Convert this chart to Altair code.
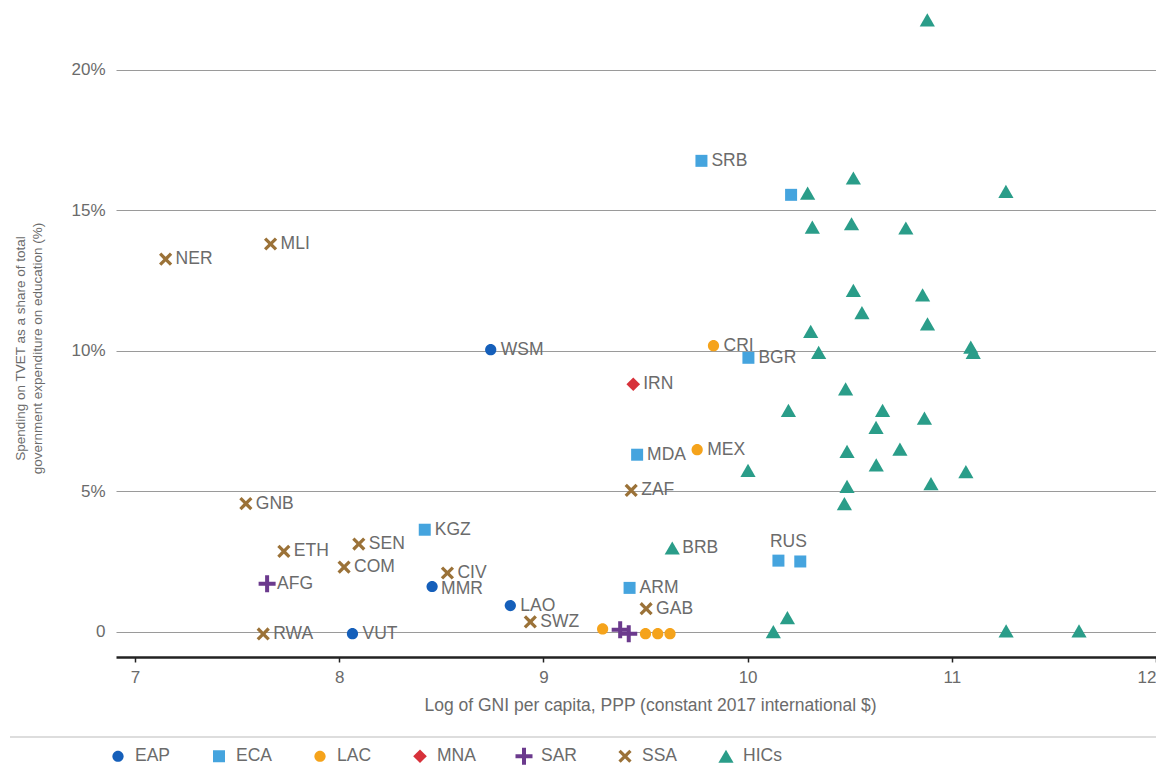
import altair as alt
import pandas as pd

# ---- data ----
regions = ["EAP", "ECA", "LAC", "MNA", "SAR", "SSA", "HICs"]

eap_codes = ["WSM", "MMR", "LAO", "VUT"]
eap_x = [8.742, 8.455, 8.838, 8.065]
eap_y = [10.04, 1.61, 0.93, -0.07]

eca_codes = ["SRB", "", "BGR", "MDA", "KGZ", "ARM", "RUS", ""]
eca_x = [9.774, 10.213, 10.004, 9.459, 8.419, 9.422, 10.151, 10.258]
eca_y = [16.76, 15.55, 9.75, 6.30, 3.63, 1.56, 2.53, 2.50]

lac_codes = ["CRI", "MEX", "", "", "", ""]
lac_x = [9.833, 9.753, 9.290, 9.500, 9.560, 9.620]
lac_y = [10.18, 6.48, 0.10, -0.07, -0.07, -0.07]

mna_codes = ["IRN"]
mna_x = [9.440]
mna_y = [8.81]

sar_codes = ["AFG", "", ""]
sar_x = [7.647, 9.376, 9.418]
sar_y = [1.71, 0.07, -0.07]

ssa_codes = ["NER", "MLI", "GNB", "ETH", "SEN", "COM", "RWA", "CIV", "SWZ", "ZAF", "GAB"]
ssa_x = [7.150, 7.664, 7.543, 7.729, 8.096, 8.024, 7.628, 8.530, 8.936, 9.430, 9.503]
ssa_y = [13.26, 13.80, 4.56, 2.86, 3.12, 2.30, -0.08, 2.09, 0.35, 5.03, 0.82]

hic_codes = ["BRB"] + [""] * 32
hic_x = [9.631, 10.880, 10.518, 10.294, 11.265, 10.317, 10.509, 10.775, 10.518,
         10.857, 10.560, 10.881, 10.309, 10.348, 11.093, 11.105, 10.480, 10.200,
         10.661, 10.866, 10.629, 10.487, 10.746, 10.002, 10.630, 11.069, 10.487,
         10.898, 10.474, 10.126, 10.195, 11.266, 11.623]
hic_y = [2.98, 21.78, 16.15, 15.61, 15.67, 14.40, 14.52, 14.37, 12.15,
         11.99, 11.36, 10.96, 10.69, 9.94, 10.13, 9.94, 8.64, 7.88,
         7.88, 7.60, 7.27, 6.42, 6.50, 5.74, 5.94, 5.70, 5.17,
         5.27, 4.56, 0.00, 0.50, 0.03, 0.03]

# labels placed above their marker / slightly below it
label_above = ["RUS"]
label_low = ["MMR"]

# ---- build table ----
groups = [
    ("EAP", eap_codes, eap_x, eap_y),
    ("ECA", eca_codes, eca_x, eca_y),
    ("LAC", lac_codes, lac_x, lac_y),
    ("MNA", mna_codes, mna_x, mna_y),
    ("SAR", sar_codes, sar_x, sar_y),
    ("SSA", ssa_codes, ssa_x, ssa_y),
    ("HICs", hic_codes, hic_x, hic_y),
]
rows = []
for reg, codes, xs, ys in groups:
    for c, xv, yv in zip(codes, xs, ys):
        pos = "above" if c in label_above else ("low" if c in label_low else "right")
        rows.append({"region": reg, "code": c, "gni": xv, "share": yv / 100.0, "pos": pos})
df = pd.DataFrame(rows)

colors = ["#155FBA", "#45A4DE", "#F5A31B", "#D7313A", "#6B3A8D", "#9B7238", "#2A9D89"]

# symbol paths in unit space (size 400 -> 10 px per unit)
circle_path = "M0.56,0A0.56,0.56,0,1,1,-0.56,0A0.56,0.56,0,1,1,0.56,0Z"
square_path = "M-0.6,-0.6H0.6V0.6H-0.6Z"
diamond_path = "M0,-0.68L0.68,0L0,0.68L-0.68,0Z"
plus_path = "M-0.85,-0.2H-0.2V-0.85H0.2V-0.2H0.85V0.2H0.2V0.85H-0.2V0.2H-0.85Z"
a, d = 0.66, 0.23
x_path = (f"M{-a},{-a+d}L{-a+d},{-a}L0,{-d}L{a-d},{-a}L{a},{-a+d}L{d},0L{a},{a-d}L{a-d},{a}"
          f"L0,{d}L{-a+d},{a}L{-a},{a-d}L{-d},0Z")
tri_path = "M0,-0.66L0.76,0.66L-0.76,0.66Z"
shapes = [circle_path, square_path, circle_path, diamond_path, plus_path, x_path, tri_path]

FONT = "Liberation Sans"
GRAY = "#6b6b6b"

x_enc = alt.X("gni:Q",
              scale=alt.Scale(domain=[6.907, 12.0], nice=False, zero=False),
              axis=alt.Axis(values=[7, 8, 9, 10, 11, 12], format="d",
                            title="Log of GNI per capita, PPP (constant 2017 international $)",
                            grid=False, domainColor="#222222", domainWidth=2.5,
                            tickColor="#222222", tickSize=5, tickWidth=1.5,
                            labelFlush=False,
                            labelAlign={"condition": {"test": "datum.value == 12", "value": "right"},
                                        "value": "center"},
                            labelFont=FONT, labelFontSize=17, labelColor=GRAY,
                            labelPadding=7,
                            titleFont=FONT, titleFontSize=17.5, titleColor=GRAY,
                            titleFontWeight="normal", titlePadding=11, titleX=534))
y_enc = alt.Y("share:Q",
              scale=alt.Scale(domain=[-0.009, 0.222], nice=False, zero=False),
              axis=alt.Axis(values=[0, 0.05, 0.10, 0.15, 0.20],
                            labelExpr="datum.value == 0 ? '0' : format(datum.value, '.0%')",
                            title=["Spending on TVET as a share of total",
                                   "government expenditure on education (%)"],
                            domain=False, ticks=False, grid=True,
                            gridColor="#9a9a9a", gridWidth=1,
                            labelFont=FONT, labelFontSize=17, labelColor=GRAY,
                            labelPadding=11,
                            titleFont=FONT, titleFontSize=13.5, titleColor=GRAY,
                            titleFontWeight="normal", titlePadding=26,
                            titleY=340, titleLineHeight=17))

points = alt.Chart(df).mark_point(filled=True, opacity=1, strokeWidth=0, size=400).encode(
    x=x_enc, y=y_enc,
    color=alt.Color("region:N", scale=alt.Scale(domain=regions, range=colors),
                    legend=alt.Legend(title=None, orient="none", direction="horizontal",
                                      columns=7, legendX=-8, legendY=738,
                                      labelFont=FONT, labelFontSize=17.5, labelColor=GRAY,
                                      columnPadding=38, labelOffset=7,
                                      symbolSize=400, symbolStrokeWidth=0)),
    shape=alt.Shape("region:N", scale=alt.Scale(domain=regions, range=shapes)),
)

base_text = alt.Chart(df)
labels = base_text.transform_filter(
    "datum.code != '' && datum.pos == 'right'"
).mark_text(align="left", baseline="middle", dx=10, font=FONT, fontSize=17.5,
            color=GRAY).encode(x="gni:Q", y="share:Q", text="code:N")

labels_low = base_text.transform_filter("datum.pos == 'low'").mark_text(
    align="left", baseline="middle", dx=9, dy=3, font=FONT, fontSize=17.5,
    color=GRAY).encode(x="gni:Q", y="share:Q", text="code:N")

rus = base_text.transform_filter("datum.pos == 'above'").mark_text(
    align="center", baseline="middle", dx=10, dy=-19, font=FONT, fontSize=17.5,
    color=GRAY).encode(x="gni:Q", y="share:Q", text="code:N")

sep = alt.Chart(df).mark_rule(color="#dddddd", strokeWidth=2, clip=False).encode(
    x=alt.value(-106), x2=alt.value(1040), y=alt.value(729))

chart = alt.layer(sep, points, labels, labels_low, rus).properties(
    width=1040, height=649,
    autosize=alt.AutoSizeParams(type="none"),
    padding={"left": 108, "top": 0, "right": 0, "bottom": 108},
).configure_view(stroke=None)

chart.save("out.html", embed_options={"renderer": "svg", "actions": False})
